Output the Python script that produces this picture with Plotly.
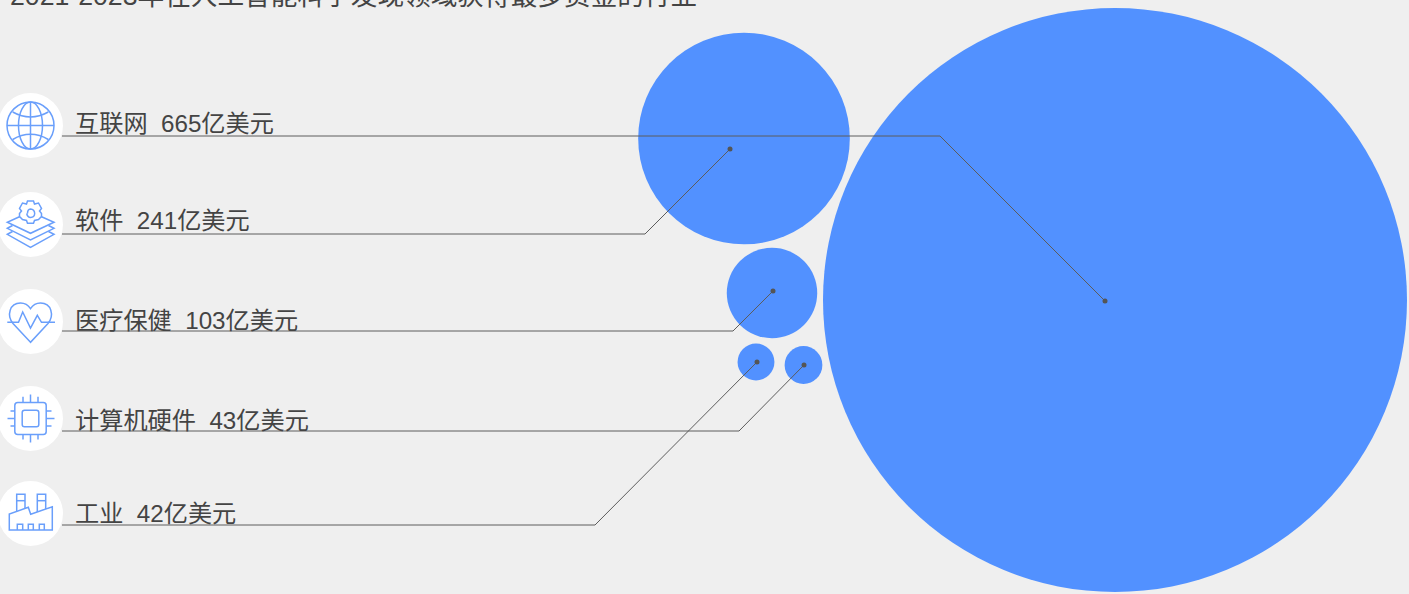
import plotly.graph_objects as go

PAGE_W, PAGE_H = 1409, 594

# Chart data: funding per industry, in 亿美元
title_text = "2021-2023年在人工智能科学发现领域获得最多资金的行业"
categories = ["互联网", "软件", "医疗保健", "计算机硬件", "工业"]
funding = [665, 241, 103, 43, 42]
unit = "亿美元"

# Bubble placement on the page
bubble_x = [1115, 744, 772, 803.5, 756]
bubble_y = [300, 138.5, 293, 365, 362]

# Leader lines: row height on the left, elbow, and anchor inside the bubble
row_y = [136, 234, 331, 431, 525]
elbow_x = [940, 645, 733, 739, 595]
anchor_x = [1105, 730, 773, 804, 757]
anchor_y = [301, 149, 291, 365, 362]
line_start_x = 62

# Distance kept between each label and the line beneath it
label_gap = [2, 1, 4, 4, 3]

# Icon discs
disc_x = 30.5
disc_y = [125.5, 224.5, 321.5, 418.5, 513.5]
disc_r = 32.5

BG = "#efefef"
BLUE = "#5291ff"
ICON = "#6a9ffb"
INK = "#444444"
LEADER = "#5c5c5c"
FONT = "Liberation Sans, Noto Sans CJK SC, sans-serif"
ICON_W = 1.5


def shift(path, cy):
    """Translate an icon path written around (0, 0) to its disc."""
    out, is_x = [], True
    for tok in path.split():
        if tok.isalpha():
            out.append(tok)
            is_x = True
        else:
            val = float(tok)
            out.append(f"{val + (disc_x if is_x else cy):.2f}")
            is_x = not is_x
    return " ".join(out)


def icon_line(path, cy, width=ICON_W):
    return dict(type="path", path=shift(path, cy), xref="x", yref="y", layer="above",
                line=dict(color=ICON, width=width), fillcolor="rgba(0,0,0,0)")


def icon_oval(cx, cy, rx, ry, width=ICON_W):
    return dict(type="circle", xref="x", yref="y", layer="above",
                x0=disc_x + cx - rx, x1=disc_x + cx + rx, y0=cy - ry, y1=cy + ry,
                line=dict(color=ICON, width=width), fillcolor="rgba(0,0,0,0)")


shapes = []
for cy in disc_y:
    shapes.append(dict(type="circle", xref="x", yref="y", layer="below",
                       x0=disc_x - disc_r, x1=disc_x + disc_r, y0=cy - disc_r, y1=cy + disc_r,
                       fillcolor="white", line=dict(width=0)))

# Globe
cy = disc_y[0]
shapes += [icon_oval(0, cy, 23.5, 23.5), icon_oval(0, cy, 12, 23.5)]
for p in ["M 0 -23.5 L 0 23.5", "M -23.5 0 L 23.5 0",
          "M -17.8 -13.5 Q 0 -3.5 17.8 -13.5", "M -17.8 14 Q 0 3.6 17.8 14"]:
    shapes.append(icon_line(p, cy))

# Gear over a stack of layers
cy = disc_y[1]
shapes.append(icon_line(
    "M -3 -11 Q -3 -15 0 -15.4 Q 4 -15 4.2 -11 Q 4 -7.2 0 -7 Q -3 -7.2 -3.8 -11", cy))
shapes.append(icon_line(
    "M -3 -23.5 L 3 -23.5 L 4 -20.5 L 8 -21.5 L 11 -16 L 9 -13.5 L 11 -11 L 11 -8 L 8 -5 "
    "L 4 -4 L 3 -1.2 L -3 -1.2 L -4 -4 L -8 -5 L -11 -8 L -11 -11 L -9 -13.5 L -11 -16 "
    "L -8 -21.5 L -4 -20.5 Z", cy))
shapes.append(icon_line("M -10.5 -8 L -23.2 -2.2 L 0 8.8 L 23.5 -2.2 L 10.5 -8", cy))
shapes.append(icon_line("M -18 1 L -23.2 3.8 L 0 15.5 L 23.5 3.8 L 18 1", cy))
shapes.append(icon_line("M -18 7 L -23.2 9.8 L 0 22.8 L 23.5 9.8 L 18 7", cy))

# Heart with a pulse trace
cy = disc_y[2]
shapes.append(icon_line(
    "M 0 20.8 L -17.5 2 C -24 -6 -21 -18.5 -10 -18.5 C -5 -18.5 -2 -16 0 -12.8 "
    "C 2 -16 5 -18.5 10 -18.5 C 21 -18.5 24 -6 17.5 2 Z", cy))
shapes.append(icon_line(
    "M -23.2 0.8 L -12 0.8 L -7.8 -9.5 L 0 6.5 L 6.8 -6.2 L 11 0.8 L 24.5 0.8", cy))

# Chip
cy = disc_y[3]
shapes.append(icon_line(
    "M -12.7 -16 L 12.7 -16 Q 15.7 -16 15.7 -13 L 15.7 13 Q 15.7 16 12.7 16 L -12.7 16 "
    "Q -15.7 16 -15.7 13 L -15.7 -13 Q -15.7 -16 -12.7 -16 Z", cy))
shapes.append(icon_line(
    "M -6 -8.3 L 6 -8.3 Q 8.3 -8.3 8.3 -6 L 8.3 6 Q 8.3 8.3 6 8.3 L -6 8.3 "
    "Q -8.3 8.3 -8.3 6 L -8.3 -6 Q -8.3 -8.3 -6 -8.3 Z", cy))
for p in ["M 0 -24 L 0 -16", "M -7.5 -21.8 L -7.5 -16", "M 7.5 -21.8 L 7.5 -16",
          "M 0 16 L 0 24", "M -7.5 16 L -7.5 21", "M 7.5 16 L 7.5 21",
          "M -23 0 L -15.7 0", "M -20 -7.5 L -15.7 -7.5", "M -20 7.5 L -15.7 7.5",
          "M 15.7 0 L 24 0", "M 15.7 -7.5 L 21 -7.5", "M 15.7 7.5 L 21 7.5"]:
    shapes.append(icon_line(p, cy))

# Factory
cy = disc_y[4]
shapes.append(icon_line(
    "M -21.2 16.5 L -21.2 0.5 L -2.2 -6.2 L 0.2 0.8 L 21.8 -6.8 L 21.8 16.5 Z", cy))
for p in ["M -13.8 -2.1 L -13.8 -19.2 L -5.5 -19.2 L -5.5 -5", "M -13.8 -12.8 L -5.5 -12.8",
          "M 6.8 -1.5 L 6.8 -19.2 L 15.2 -19.2 L 15.2 -4.5", "M 6.8 -12.8 L 15.2 -12.8",
          "M -13.2 16.5 L -13.2 10.8 L -7.8 10.8 L -7.8 16.5",
          "M -2.2 16.5 L -2.2 10.8 L 2.8 10.8 L 2.8 16.5",
          "M 8.8 16.5 L 8.8 10.8 L 13.8 10.8 L 13.8 16.5"]:
    shapes.append(icon_line(p, cy))

fig = go.Figure()

# Bubbles: radius scales with the funding amount
fig.add_trace(go.Scatter(
    x=bubble_x, y=bubble_y, mode="markers", hoverinfo="skip", cliponaxis=False,
    marker=dict(size=funding, sizemode="diameter", sizeref=665 / 584,
                color=BLUE, opacity=1, line=dict(width=0)),
))

# Leader lines from each label row to its bubble
for ry, ex, ax, ay in zip(row_y, elbow_x, anchor_x, anchor_y):
    fig.add_trace(go.Scatter(
        x=[line_start_x, ex, ax], y=[ry, ry, ay], mode="lines", hoverinfo="skip",
        line=dict(color=LEADER, width=1),
    ))
fig.add_trace(go.Scatter(
    x=anchor_x, y=anchor_y, mode="markers", hoverinfo="skip",
    marker=dict(size=5, color="#555555", opacity=1, line=dict(width=0)),
))

annotations = [dict(
    x=9, y=12, xref="x", yref="y", xanchor="left", yanchor="bottom", showarrow=False,
    text=title_text, font=dict(family=FONT, size=26.67, color=INK), borderpad=0,
)]
for name, value, ry, gap in zip(categories, funding, row_y, label_gap):
    annotations.append(dict(
        x=73.5, y=ry + gap, xref="x", yref="y", xanchor="left", yanchor="bottom",
        showarrow=False, borderpad=0,
        text=f"{name}\u00a0\u00a0{value}{unit}",
        font=dict(family=FONT, size=24.2, color=INK),
    ))

fig.update_layout(
    width=PAGE_W, height=PAGE_H, autosize=False,
    margin=dict(l=0, r=0, t=0, b=0, pad=0),
    paper_bgcolor=BG, plot_bgcolor=BG, showlegend=False,
    xaxis=dict(range=[0, PAGE_W], visible=False, fixedrange=True),
    yaxis=dict(range=[PAGE_H, 0], visible=False, fixedrange=True),
    shapes=shapes, annotations=annotations,
)

fig.write_html("out.html", config=dict(displayModeBar=False))
